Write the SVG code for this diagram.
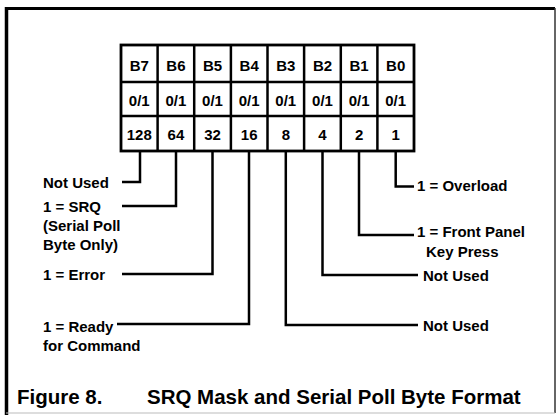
<svg xmlns="http://www.w3.org/2000/svg" width="557" height="415" viewBox="0 0 557 415">
<style>
.t{font-family:"Liberation Sans",Arial,sans-serif;font-weight:bold;font-size:15px;fill:#000}
.c{text-anchor:middle}
.cap{font-family:"Liberation Sans",Arial,sans-serif;font-weight:bold;font-size:20.5px;fill:#000}
.cell{fill:#fff;stroke:#000;stroke-width:2.8}
.ln{fill:none;stroke:#000;stroke-width:2.5}
</style>
<rect width="557" height="415" fill="#fff"/>
<g id="frame">
<line x1="6.5" y1="7" x2="6.5" y2="415" stroke="#000" stroke-width="3.5"/>
<line x1="5" y1="8.5" x2="555" y2="8.5" stroke="#000" stroke-width="3"/>
<line x1="555" y1="8" x2="555" y2="413" stroke="#333" stroke-width="1.5"/>
<line x1="6" y1="413" x2="555" y2="413" stroke="#bbb" stroke-width="1"/>
</g>
<g id="table">
<rect class="cell" x="121" y="45" width="293" height="106"/>
<g class="ln">
<line x1="121" y1="82" x2="414" y2="82"/>
<line x1="121" y1="116" x2="414" y2="116"/>
<line x1="157.6" y1="45" x2="157.6" y2="151"/>
<line x1="194.2" y1="45" x2="194.2" y2="151"/>
<line x1="230.9" y1="45" x2="230.9" y2="151"/>
<line x1="267.5" y1="45" x2="267.5" y2="151"/>
<line x1="304.1" y1="45" x2="304.1" y2="151"/>
<line x1="340.8" y1="45" x2="340.8" y2="151"/>
<line x1="377.4" y1="45" x2="377.4" y2="151"/>
</g>
<g class="t c">
<text x="139.3" y="71">B7</text><text x="175.9" y="71">B6</text><text x="212.5" y="71">B5</text><text x="249.2" y="71">B4</text><text x="285.8" y="71">B3</text><text x="322.5" y="71">B2</text><text x="359.1" y="71">B1</text><text x="395.7" y="71">B0</text>
<text x="139.3" y="106">0/1</text><text x="175.9" y="106">0/1</text><text x="212.5" y="106">0/1</text><text x="249.2" y="106">0/1</text><text x="285.8" y="106">0/1</text><text x="322.5" y="106">0/1</text><text x="359.1" y="106">0/1</text><text x="395.7" y="106">0/1</text>
<text x="139.3" y="140">128</text><text x="175.9" y="140">64</text><text x="212.5" y="140">32</text><text x="249.2" y="140">16</text><text x="285.8" y="140">8</text><text x="322.5" y="140">4</text><text x="359.1" y="140">2</text><text x="395.7" y="140">1</text>
</g>
</g>
<g id="connectors" class="ln">
<path d="M140 151V182H122"/>
<path d="M176 151V206H122"/>
<path d="M212.5 151V274H122"/>
<path d="M249 151V324H117"/>
<path d="M285.8 151V325H418"/>
<path d="M322.5 151V275H418"/>
<path d="M359 151V235H414"/>
<path d="M395.7 151V186.5H414"/>
</g>
<g id="b7"><text class="t" x="43" y="188">Not Used</text></g>
<g id="b6"><text class="t" x="43" y="212">1 = SRQ</text><text class="t" x="43" y="231">(Serial Poll</text><text class="t" x="43" y="250">Byte Only)</text></g>
<g id="b5"><text class="t" x="43" y="280">1 = Error</text></g>
<g id="b4"><text class="t" x="43" y="332">1 = Ready</text><text class="t" x="43" y="351">for Command</text></g>
<g id="b3"><text class="t" x="423" y="331">Not Used</text></g>
<g id="b2"><text class="t" x="423" y="281">Not Used</text></g>
<g id="b1"><text class="t" x="417" y="237">1 = Front Panel</text><text class="t" x="426" y="257">Key Press</text></g>
<g id="b0"><text class="t" x="417" y="191">1 = Overload</text></g>
<g id="caption"><text class="cap" x="17" y="404">Figure 8.</text><text class="cap" x="147" y="404">SRQ Mask and Serial Poll Byte Format</text></g>
</svg>
